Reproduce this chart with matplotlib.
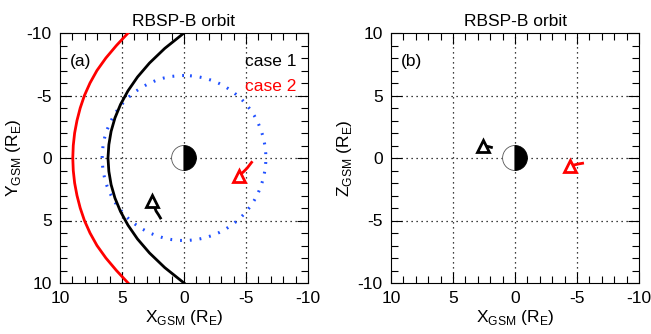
import numpy as np
import matplotlib
matplotlib.use('Agg')
import matplotlib.pyplot as plt
from matplotlib.patches import Circle, Wedge
from matplotlib.ticker import MultipleLocator

plt.rcParams['font.family'] = ['Liberation Sans', 'DejaVu Sans']
plt.rcParams['mathtext.fontset'] = 'custom'
plt.rcParams['mathtext.rm'] = 'Liberation Sans'
plt.rcParams['axes.unicode_minus'] = False

# magnetopause (black) and bow shock (red), X vs Y in R_E
mp_y = [-10.0, -8.77, -7.6, -6.48, -5.37, -4.28, -3.2, -2.13, -1.07, 0.0,
        1.07, 2.13, 3.2, 4.28, 5.37, 6.48, 7.6, 8.77, 10.0]
mp_x = [0.0, 1.55, 2.78, 3.75, 4.52, 5.12, 5.57, 5.88, 6.06, 6.13,
        6.06, 5.88, 5.57, 5.12, 4.52, 3.75, 2.78, 1.55, 0.0]
bs_y = [-10.0, -9.0, -8.0, -7.0, -6.0, -5.0, -4.0, -3.0, -2.0, -1.0, 0.0,
        1.0, 2.0, 3.0, 4.0, 5.0, 6.0, 7.0, 8.0, 9.0, 10.0]
bs_x = [4.51, 5.45, 6.3, 7.02, 7.58, 8.03, 8.37, 8.63, 8.82, 8.93, 8.97,
        8.93, 8.82, 8.63, 8.37, 8.03, 7.58, 7.02, 6.3, 5.45, 4.51]
orbit_r = 6.6

# spacecraft tracks, first point = triangle
c1_x = [2.55, 2.4, 2.25, 2.05, 1.9]
c1_y = [3.45, 3.85, 4.25, 4.55, 4.8]
c1_z = [1.0, 0.97, 0.93, 0.89, 0.85]
c2_x = [-4.45, -4.8, -5.1, -5.45]
c2_y = [1.4, 1.1, 0.8, 0.35]
c2_z = [-0.6, -0.55, -0.48, -0.42]

blue = '#2050ff'
red = '#ff0000'

fig = plt.figure(figsize=(6.51, 3.34), dpi=100)
ax1 = fig.add_axes([60/651, 51/334, 248/651, 250/334])
ax2 = fig.add_axes([391/651, 51/334, 248/651, 250/334])


def setup(ax, ylab):
    ax.set_xlim(10, -10)
    ax.xaxis.set_major_locator(MultipleLocator(5))
    ax.xaxis.set_minor_locator(MultipleLocator(1))
    ax.yaxis.set_major_locator(MultipleLocator(5))
    ax.yaxis.set_minor_locator(MultipleLocator(1))
    ax.tick_params(which='both', direction='in', top=True, right=True,
                   labelsize=12.5, width=0.8, pad=6)
    ax.tick_params(which='major', length=8)
    ax.tick_params(which='minor', length=5)
    for v in (-5, 0, 5):
        ax.axvline(v, color='black', lw=0.9, ls=(0, (1, 3)), zorder=1)
        ax.axhline(v, color='black', lw=0.9, ls=(0, (1, 3)), zorder=1)
    ax.set_xlabel(r'X$_\mathregular{GSM}$ (R$_\mathregular{E}$)', fontsize=12.5, labelpad=1)
    ax.set_ylabel(ylab, fontsize=12.5)
    ax.yaxis.set_label_coords(-0.15, 0.5)
    ax.set_title('RBSP-B orbit', fontsize=12.5, pad=5)
    for s in ax.spines.values():
        s.set_linewidth(0.8)
    # Earth: day side (+X, left) white, night side black
    ax.add_patch(Wedge((0, 0), 1.0, -90, 90, facecolor='white', edgecolor='#555555', lw=0.6, zorder=3))
    ax.add_patch(Wedge((0, 0), 1.0, 90, 270, facecolor='black', edgecolor='black', lw=0.6, zorder=3))


# panel (a): X-Y plane
setup(ax1, r'Y$_\mathregular{GSM}$ (R$_\mathregular{E}$)')
ax1.set_ylim(10, -10)
ax1.plot(bs_x, bs_y, color=red, lw=2, zorder=4)
ax1.plot(mp_x, mp_y, color='black', lw=2, zorder=4)
ax1.add_patch(Circle((0, 0), orbit_r, fill=False, edgecolor=blue, lw=2.2,
                     ls=(0, (0.6, 2.6)), zorder=2))
ax1.plot(c1_x, c1_y, color='black', lw=2, zorder=5)
ax1.plot(c1_x[0], c1_y[0], marker='^', ms=8, mfc='white', mec='black', mew=2, zorder=6)
ax1.plot(c2_x, c2_y, color=red, lw=2, zorder=5)
ax1.plot(c2_x[0], c2_y[0], marker='^', ms=8, mfc='white', mec=red, mew=2, zorder=6)
ax1.text(0.04, 0.885, '(a)', transform=ax1.transAxes, fontsize=12.5, va='center')
ax1.text(0.955, 0.885, 'case 1', transform=ax1.transAxes, fontsize=12.5, va='center', ha='right', color='black')
ax1.text(0.955, 0.785, 'case 2', transform=ax1.transAxes, fontsize=12.5, va='center', ha='right', color=red)

# panel (b): X-Z plane
setup(ax2, r'Z$_\mathregular{GSM}$ (R$_\mathregular{E}$)')
ax2.set_ylim(-10, 10)
ax2.plot(c1_x, c1_z, color='black', lw=2, zorder=5)
ax2.plot(c1_x[0], c1_z[0], marker='^', ms=8, mfc='white', mec='black', mew=2, zorder=6)
ax2.plot(c2_x, c2_z, color=red, lw=2, zorder=5)
ax2.plot(c2_x[0], c2_z[0], marker='^', ms=8, mfc='white', mec=red, mew=2, zorder=6)
ax2.text(0.04, 0.885, '(b)', transform=ax2.transAxes, fontsize=12.5, va='center')

fig.savefig('out.png', dpi=100)
